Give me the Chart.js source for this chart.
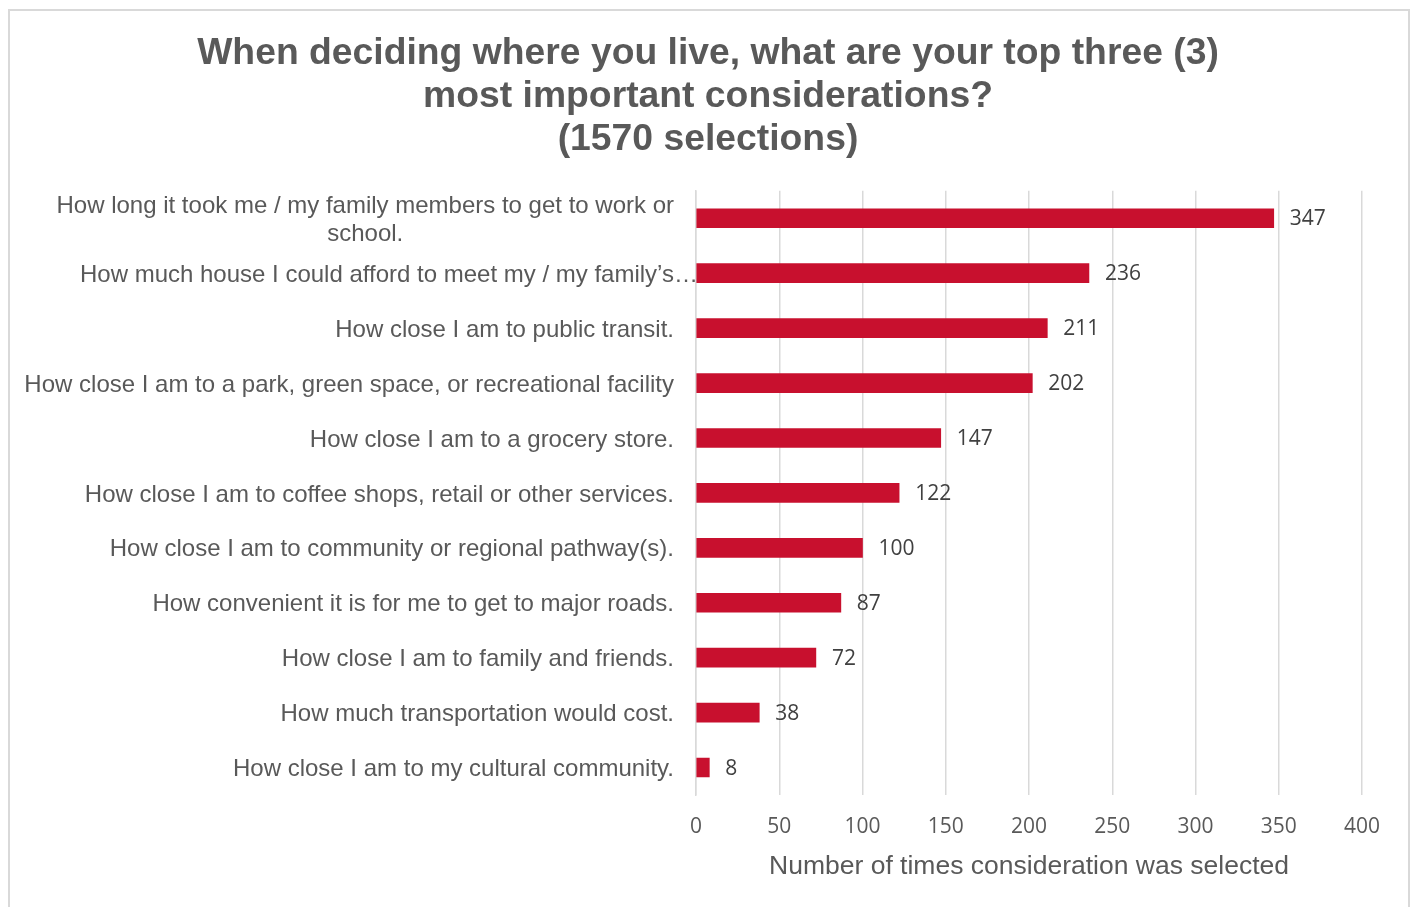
<!DOCTYPE html>
<html>
<head>
<meta charset="utf-8">
<script src="https://cdn.jsdelivr.net/npm/chart.js@4/dist/chart.umd.min.js"></script>
<style>
  body { margin: 0; background: #fff; }
  canvas { display: block; }
</style>
</head>
<body>
<canvas id="chart-area" width="1416" height="907"></canvas>
<script>
// survey answers, top to bottom
var categories = [
    ['How long it took me / my family members to get to work or', 'school.'],
    'How much house I could afford to meet my / my family\u2019s\u2026',
    'How close I am to public transit.',
    'How close I am to a park, green space, or recreational facility',
    'How close I am to a grocery store.',
    'How close I am to coffee shops, retail or other services.',
    'How close I am to community or regional pathway(s).',
    'How convenient it is for me to get to major roads.',
    'How close I am to family and friends.',
    'How much transportation would cost.',
    'How close I am to my cultural community.'
];
var selections = [347, 236, 211, 202, 147, 122, 100, 87, 72, 38, 8];
var xTicks = [0, 50, 100, 150, 200, 250, 300, 350, 400];

var grey = '#595959';
var barRed = '#c8102e';

// frame round the chart, like the spreadsheet export
var framePlugin = {
    id: 'frame',
    beforeDraw: function(chart) {
        var ctx = chart.ctx;
        ctx.save();
        ctx.fillStyle = '#fff';
        ctx.fillRect(0, 0, chart.width, chart.height);
        ctx.strokeStyle = '#d9d9d9';
        ctx.lineWidth = 2;
        ctx.strokeRect(9, 10, 1400, 910);
        ctx.restore();
    }
};

// category labels (multi-line ones centred as a block) and value labels
var labelPlugin = {
    id: 'labels',
    afterDatasetsDraw: function(chart) {
        var ctx = chart.ctx;
        var yScale = chart.scales.y;
        var right = chart.chartArea.left - 22;
        ctx.save();
        ctx.font = '24px "Liberation Sans", Arial, sans-serif';
        ctx.fillStyle = grey;
        ctx.textBaseline = 'middle';
        ctx.textAlign = 'center';
        var ellipsis = ctx.measureText('\u2026').width;
        categories.forEach(function(cat, i) {
            var lines = Array.isArray(cat) ? cat : [cat];
            var w = 0;
            lines.forEach(function(l) { w = Math.max(w, ctx.measureText(l).width); });
            // truncated labels spill their ellipsis past the edge
            var shift = (lines.length === 1 && lines[0].slice(-1) === '\u2026') ? ellipsis : 0;
            var cy = yScale.getPixelForTick(i) + 2;
            var lh = 28;
            var top = cy - (lines.length - 1) * lh / 2;
            lines.forEach(function(l, k) {
                ctx.fillText(l, right - w / 2 + shift, top + k * lh);
            });
        });

        ctx.font = '21px "Open Sans", sans-serif';
        ctx.textAlign = 'left';
        ctx.fillStyle = '#404040';
        chart.getDatasetMeta(0).data.forEach(function(bar, i) {
            ctx.fillText(String(selections[i]), bar.x + 16, bar.y + 1);
        });
        ctx.restore();
    }
};

var config = {
    type: 'bar',
    data: {
        labels: categories,
        datasets: [{
            data: selections,
            backgroundColor: barRed,
            borderWidth: 0,
            barThickness: 19
        }]
    },
    options: {
        indexAxis: 'y',
        responsive: false,
        animation: false,
        layout: {
            padding: { left: 54, right: 54, top: 0, bottom: 24 }
        },
        plugins: {
            legend: { display: false },
            tooltip: { enabled: false },
            title: {
                display: true,
                text: [
                    'When deciding where you live, what are your top three (3)',
                    'most important considerations?',
                    '(1570 selections)'
                ],
                color: grey,
                font: { family: '"Liberation Sans", Arial, sans-serif', size: 37.3, weight: 'bold', lineHeight: 1.16 },
                padding: { top: 32, bottom: 29 }
            }
        },
        scales: {
            x: {
                min: 0,
                max: 400,
                afterBuildTicks: function(axis) {
                    axis.ticks = xTicks.map(function(v) { return { value: v }; });
                },
                afterFit: function(axis) { axis.height = 88; },
                grid: { color: '#d9d9d9', lineWidth: 1.5, drawTicks: false },
                border: { display: false },
                ticks: {
                    color: grey,
                    padding: 19,
                    font: { family: '"Open Sans", sans-serif', size: 21 }
                },
                title: {
                    display: true,
                    text: 'Number of times consideration was selected',
                    color: grey,
                    font: { family: '"Liberation Sans", Arial, sans-serif', size: 26.5 },
                    padding: { top: 12, bottom: 0 }
                }
            },
            y: {
                afterFit: function(axis) { axis.width = 642; },
                grid: { display: false },
                border: { display: true, color: '#d9d9d9', width: 1.5 },
                ticks: { display: false }
            }
        }
    },
    plugins: [framePlugin, labelPlugin]
};

window.onload = function() {
    var ctx = document.getElementById('chart-area').getContext('2d');
    window.myBar = new Chart(ctx, config);
};
</script>
</body>
</html>
